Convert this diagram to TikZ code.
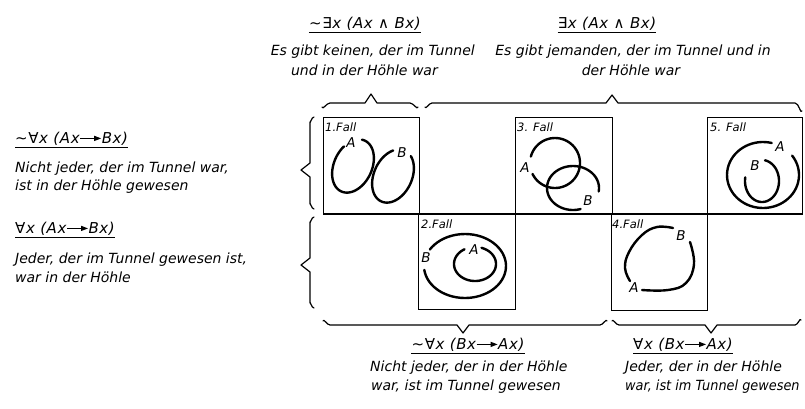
\documentclass[tikz,border=0pt]{standalone}
\usepackage{fontspec}
\usetikzlibrary{arrows.meta}
\setmainfont{DejaVu Sans}
\newfontfamily\fmlfont{DejaVu Sans}[LetterSpace=4]
\newcommand\ringarc[7]{\draw[ring] plot[smooth, samples=60, domain=#6:#7, variable=\t]
  ({#1 + #3*cos(\t)*cos(#5) - #4*sin(\t)*sin(#5)}, {#2 - (#3*cos(\t)*sin(#5) + #4*sin(\t)*cos(#5))});}
\newcommand\implarrow{\tikz[baseline=0pt,x=1pt,y=1pt]\draw[line width=1.1pt,-{Triangle[length=7pt,width=5pt]}] (0,4.6) -- (21,4.6);}
\begin{document}
\begin{tikzpicture}[x=1pt,y=-1pt,
  txt/.style={font=\fontsize{14}{16}\selectfont\itshape, inner sep=0pt, anchor=base west},
  fml/.style={font=\fontsize{15}{16}\selectfont\fmlfont\itshape, inner sep=0pt, anchor=base},
  fall/.style={font=\fontsize{11.5}{12}\selectfont\itshape, inner sep=0pt, anchor=base west},
  lbl/.style={font=\fontsize{13.5}{14}\selectfont\itshape, inner sep=0pt},
  box/.style={draw, line width=1.1pt, inner sep=0pt, anchor=north west},
  ring/.style={line width=2.4pt, line cap=round},
  brc/.style={line width=1.2pt, line cap=round, line join=round},
  uline/.style={line width=1.2pt}]
\fill[white] (0,0) rectangle (805,408);
\useasboundingbox (0,0) rectangle (805,408);

% boxes
\node[box, minimum width=96pt, minimum height=96pt] (f1) at (323,117) {};
\node[box, minimum width=97pt, minimum height=96pt] (f3) at (515,117) {};
\node[box, minimum width=95pt, minimum height=96pt] (f5) at (707,117) {};
\node[box, minimum width=97pt, minimum height=96pt] (f2) at (418,213) {};
\node[box, minimum width=96pt, minimum height=97pt] (f4) at (611,213) {};
\draw[line width=1.1pt] (f1.south west) -- (f5.south east);

% Fall labels
\node[fall] (l1) at (325,131) {1.Fall};
\node[fall] (l3) at (517,131) {3. Fall};
\node[fall] (l5) at (710,131) {5. Fall};
\node[fall] (l2) at (421,228) {2.Fall};
\node[fall] (l4) at (612,228) {4.Fall};

% case 1
\ringarc{353}{166}{19}{28}{-25}{150}{459}
\ringarc{393}{176}{19}{28}{-25}{124}{426}
\node[lbl] (a1) at (351,143) {A};
\node[lbl] (b1) at (402,153) {B};

% case 3
\ringarc{555}{163}{25}{25}{0}{206}{525}
\ringarc{573}{188}{26}{22}{0}{-9}{287}
\node[lbl] (a3) at (525,168) {A};
\node[lbl] (b3) at (588,201) {B};

% case 5
\ringarc{763}{175}{36}{33}{0}{76}{396}
\ringarc{762}{181}{17}{21}{0}{170}{440}
\node[lbl] (a5) at (780,147) {A};
\node[lbl] (b5) at (755,166) {B};

% case 2
\ringarc{465}{266}{41}{32}{0}{187}{509}
\ringarc{475}{264}{21}{17}{0}{120}{432}
\node[lbl] (b2) at (426,258) {B};
\node[lbl] (a2) at (474,250) {A};

% case 4
\draw[ring] plot[smooth, tension=0.7] coordinates {(642,290) (668,290) (686,283) (694,264) (690,242)};
\draw[ring] plot[smooth, tension=0.7] coordinates {(673,228) (657,227) (642,235) (629,252) (625,268) (630,281)};
\node[lbl] (b4) at (681,236) {B};
\node[lbl] (a4) at (634,288) {A};

% braces top
\draw[brc] (322,107) to[out=-80,in=180] (330,103) -- (365,103) -- (371,94) -- (377,103) -- (410,103) to[out=0,in=-100] (418,107);
\draw[brc] (425,107) to[out=-80,in=180] (432,103) -- (606,103) -- (612,95) -- (618,103) -- (795,103) to[out=0,in=-110] (802,111);
% braces left
\draw[brc] (314,117) to[out=180,in=-90] (310,122) -- (310,163) -- (301,170) -- (310,177) -- (310,204) to[out=90,in=180] (314,209);
\draw[brc] (314,217) to[out=180,in=-90] (310,222) -- (310,258) -- (301,265) -- (310,272) -- (310,303) to[out=90,in=180] (314,308);
% braces bottom
\draw[brc] (323,321) to[out=80,in=180] (330,325) -- (457,325) -- (463,333) -- (469,325) -- (600,325) to[out=0,in=100] (607,321);
\draw[brc] (612,321) to[out=80,in=180] (619,325) -- (705,325) -- (711,333) -- (717,325) -- (795,325) to[out=0,in=110] (801,320);

% top texts
\node[fml] (F1) at (365,28) {∼∃x (Ax ∧ Bx)};
\draw[uline] ([yshift=-2pt]F1.south west) -- ([yshift=-2pt]F1.south east);
\node[txt, anchor=base east] (t1a) at (475,55) {Es gibt keinen, der im Tunnel};
\node[txt, anchor=base east] (t1b) at (438,75) {und in der Höhle war};
\node[fml] (F2) at (607,28) {∃x (Ax ∧ Bx)};
\draw[uline] ([yshift=-2pt]F2.south west) -- ([yshift=-2pt]F2.south east);
\node[txt, anchor=base] (t2a) at (633,55) {Es gibt jemanden, der im Tunnel und in};
\node[txt, anchor=base] (t2b) at (631,75) {der Höhle war};

% left texts
\node[fml, anchor=base west] (F3) at (15,143) {∼∀x (Ax\implarrow Bx)};
\draw[uline] ([yshift=-2pt]F3.south west) -- ([yshift=-2pt]F3.south east);
\node[txt] (t3a) at (15,172) {Nicht jeder, der im Tunnel war,};
\node[txt] (t3b) at (15,190) {ist in der Höhle gewesen};
\node[fml, anchor=base west] (F4) at (15,233) {∀x (Ax\implarrow Bx)};
\draw[uline] ([yshift=-2pt]F4.south west) -- ([yshift=-2pt]F4.south east);
\node[txt] (t4a) at (15,263) {Jeder, der im Tunnel gewesen ist,};
\node[txt] (t4b) at (15,282) {war in der Höhle};

% bottom texts
\node[fml] (F5) at (468,349) {∼∀x (Bx\implarrow Ax)};
\draw[uline] ([yshift=-2pt]F5.south west) -- ([yshift=-2pt]F5.south east);
\node[txt] (t5a) at (370,371) {Nicht jeder, der in der Höhle};
\node[txt] (t5b) at (371,390) {war, ist im Tunnel gewesen};
\node[fml, anchor=base west] (F6) at (633,349) {∀x (Bx\implarrow Ax)};
\draw[uline] ([yshift=-2pt]F6.south west) -- ([yshift=-2pt]F6.south east);
\node[txt] (t6a) at (625,371) {Jeder, der in der Höhle};
\node[txt] (t6b) at (625,390) {\scalebox{0.92}[1]{war, ist im Tunnel gewesen}};
\end{tikzpicture}
\end{document}
